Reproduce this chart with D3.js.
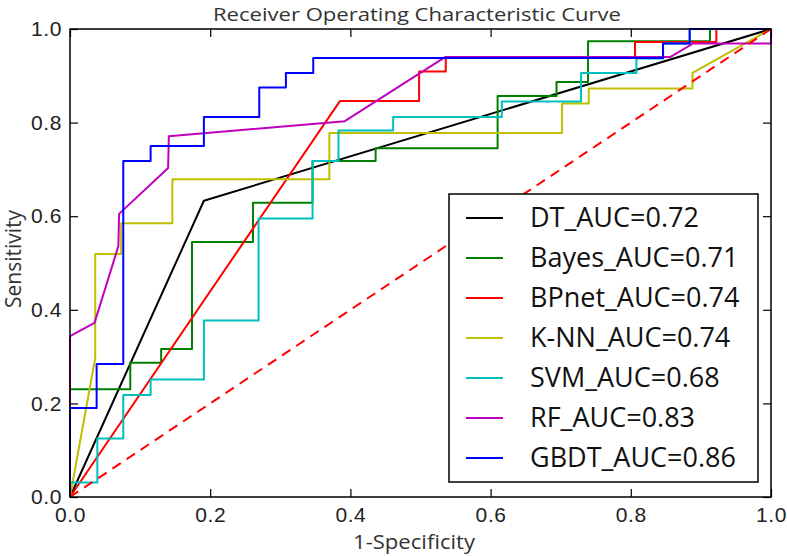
<!DOCTYPE html>
<html>
<head>
<meta charset="utf-8">
<script src="https://cdn.jsdelivr.net/npm/d3@7/dist/d3.min.js"></script>
<style>
  body { margin: 0; background: #fff; }
  svg { display: block; font-family: "Open Sans", sans-serif; }
</style>
</head>
<body>
<svg id="chart" width="787" height="556"></svg>
<script>
'use strict'

// ROC points (fpr = 1-specificity, tpr = sensitivity)
const dtFpr = [0, 0.191, 1]
const dtTpr = [0, 0.633, 1]

const bayesFpr = [0, 0, 0.086, 0.086, 0.13, 0.13, 0.174, 0.174, 0.261, 0.261, 0.346, 0.346, 0.436, 0.436, 0.61, 0.61, 0.694, 0.694, 0.739, 0.739, 0.913, 0.913, 1]
const bayesTpr = [0, 0.23, 0.23, 0.287, 0.287, 0.316, 0.316, 0.545, 0.545, 0.629, 0.629, 0.718, 0.718, 0.745, 0.745, 0.857, 0.857, 0.887, 0.887, 0.974, 0.974, 1, 1]

const bpFpr = [0, 0.385, 0.498, 0.498, 0.536, 0.536, 0.806, 0.806, 0.922, 0.922, 1]
const bpTpr = [0, 0.846, 0.846, 0.909, 0.909, 0.94, 0.94, 0.972, 0.972, 1, 1]

const knnFpr = [0, 0.036, 0.036, 0.073, 0.073, 0.146, 0.146, 0.37, 0.37, 0.702, 0.702, 0.74, 0.74, 0.888, 0.888, 1]
const knnTpr = [0, 0.297, 0.519, 0.519, 0.585, 0.585, 0.679, 0.679, 0.778, 0.778, 0.841, 0.841, 0.873, 0.873, 0.906, 1]

const svmFpr = [0, 0, 0.039, 0.039, 0.076, 0.076, 0.115, 0.115, 0.191, 0.191, 0.269, 0.269, 0.346, 0.346, 0.383, 0.383, 0.461, 0.461, 0.616, 0.616, 0.729, 0.729, 0.808, 0.808, 0.846, 0.846, 0.884, 0.884, 1]
const svmTpr = [0, 0.031, 0.031, 0.125, 0.125, 0.218, 0.218, 0.251, 0.251, 0.377, 0.377, 0.595, 0.595, 0.718, 0.718, 0.783, 0.783, 0.812, 0.812, 0.845, 0.845, 0.906, 0.906, 0.937, 0.937, 0.969, 0.969, 1, 1]

const rfFpr = [0, 0, 0.035, 0.069, 0.07, 0.14, 0.141, 0.392, 0.535, 0.856, 0.889, 1, 1]
const rfTpr = [0, 0.344, 0.372, 0.536, 0.605, 0.703, 0.771, 0.803, 0.94, 0.94, 0.969, 0.969, 1]

const gbdtFpr = [0, 0, 0.038, 0.038, 0.076, 0.076, 0.115, 0.115, 0.191, 0.191, 0.27, 0.27, 0.308, 0.308, 0.347, 0.347, 0.846, 0.846, 0.884, 0.884, 1]
const gbdtTpr = [0, 0.19, 0.19, 0.284, 0.284, 0.718, 0.718, 0.75, 0.75, 0.812, 0.812, 0.875, 0.875, 0.906, 0.906, 0.938, 0.938, 0.969, 0.969, 1, 1]

const modelNames = ['DT', 'Bayes', 'BPnet', 'K-NN', 'SVM', 'RF', 'GBDT']
const aucValues = [0.72, 0.71, 0.74, 0.74, 0.68, 0.83, 0.86]
const tickValues = [0, 0.2, 0.4, 0.6, 0.8, 1.0]

const colors = ['#000000', '#008000', '#ff0000', '#bfbf00', '#00bfbf', '#bf00bf', '#0000ff']
const curves = [
  [dtFpr, dtTpr], [bayesFpr, bayesTpr], [bpFpr, bpTpr], [knnFpr, knnTpr],
  [svmFpr, svmTpr], [rfFpr, rfTpr], [gbdtFpr, gbdtTpr]
]

const svg = d3.select('#chart')
const plotLeft = 70, plotRight = 771, plotTop = 29, plotBottom = 497

const x = d3.scaleLinear().domain([0, 1]).range([plotLeft, plotRight])
const y = d3.scaleLinear().domain([0, 1]).range([plotBottom, plotTop])

const line = d3.line().x(d => x(d[0])).y(d => y(d[1]))

// curves
const plot = svg.append('g')
curves.forEach(function (c, i) {
  const pts = c[0].map((f, k) => [f, c[1][k]])
  plot.append('path')
    .datum(pts)
    .attr('d', line)
    .attr('fill', 'none')
    .attr('stroke', colors[i])
    .attr('stroke-width', 2)
    .attr('stroke-linejoin', 'round')
})

plot.append('path')
  .datum([[0, 0], [1, 1]])
  .attr('d', line)
  .attr('fill', 'none')
  .attr('stroke', '#ff0000')
  .attr('stroke-width', 2)
  .attr('stroke-dasharray', '10,7')

// axes with inward ticks on all four sides
const fmt = d3.format('.1f')
const styleAxis = function (g) {
  g.select('.domain').remove()
  g.selectAll('.tick line').attr('stroke', '#000').attr('stroke-width', 1.2)
  g.selectAll('.tick text')
    .attr('fill', '#222')
    .style('font-size', '21px')
    .style('letter-spacing', '0.6px')
}

svg.append('g')
  .attr('transform', `translate(0,${plotBottom})`)
  .call(d3.axisBottom(x).tickValues(tickValues).tickFormat(fmt).tickSize(-8).tickPadding(10))
  .call(styleAxis)
svg.append('g')
  .attr('transform', `translate(${plotLeft},0)`)
  .call(d3.axisLeft(y).tickValues(tickValues).tickFormat(fmt).tickSize(-8).tickPadding(8))
  .call(styleAxis)
svg.append('g')
  .attr('transform', `translate(0,${plotTop})`)
  .call(d3.axisTop(x).tickValues(tickValues).tickFormat('').tickSize(-8))
  .call(styleAxis)
svg.append('g')
  .attr('transform', `translate(${plotRight},0)`)
  .call(d3.axisRight(y).tickValues(tickValues).tickFormat('').tickSize(-8))
  .call(styleAxis)

svg.append('rect')
  .attr('x', plotLeft).attr('y', plotTop)
  .attr('width', plotRight - plotLeft).attr('height', plotBottom - plotTop)
  .attr('fill', 'none').attr('stroke', '#000').attr('stroke-width', 1.5)

// title & labels
svg.append('text')
  .attr('x', 417).attr('y', 21)
  .attr('text-anchor', 'middle')
  .attr('fill', '#333')
  .attr('textLength', 408)
  .attr('lengthAdjust', 'spacingAndGlyphs')
  .style('font-size', '19px')
  .text('Receiver Operating Characteristic Curve')

svg.append('text')
  .attr('x', 414).attr('y', 549)
  .attr('text-anchor', 'middle')
  .attr('fill', '#333')
  .attr('textLength', 122)
  .attr('lengthAdjust', 'spacingAndGlyphs')
  .style('font-size', '20px')
  .text('1-Specificity')

svg.append('text')
  .attr('transform', 'translate(21,259) rotate(-90)')
  .attr('text-anchor', 'middle')
  .attr('fill', '#333')
  .style('font-size', '21px')
  .text('Sensitivity')

// legend
const legend = svg.append('g')
legend.append('rect')
  .attr('x', 449).attr('y', 194)
  .attr('width', 309).attr('height', 288)
  .attr('fill', '#fff').attr('stroke', '#000').attr('stroke-width', 1.5)

modelNames.forEach(function (name, i) {
  const ly = 218 + i * 40
  legend.append('line')
    .attr('x1', 466).attr('x2', 503)
    .attr('y1', ly).attr('y2', ly)
    .attr('stroke', colors[i]).attr('stroke-width', 2)
  legend.append('text')
    .attr('x', 530).attr('y', ly)
    .attr('dy', '0.35em')
    .attr('fill', '#111')
    .style('font-size', '27px')
    .text(`${name}_AUC=${aucValues[i].toFixed(2)}`)
})
</script>
</body>
</html>
